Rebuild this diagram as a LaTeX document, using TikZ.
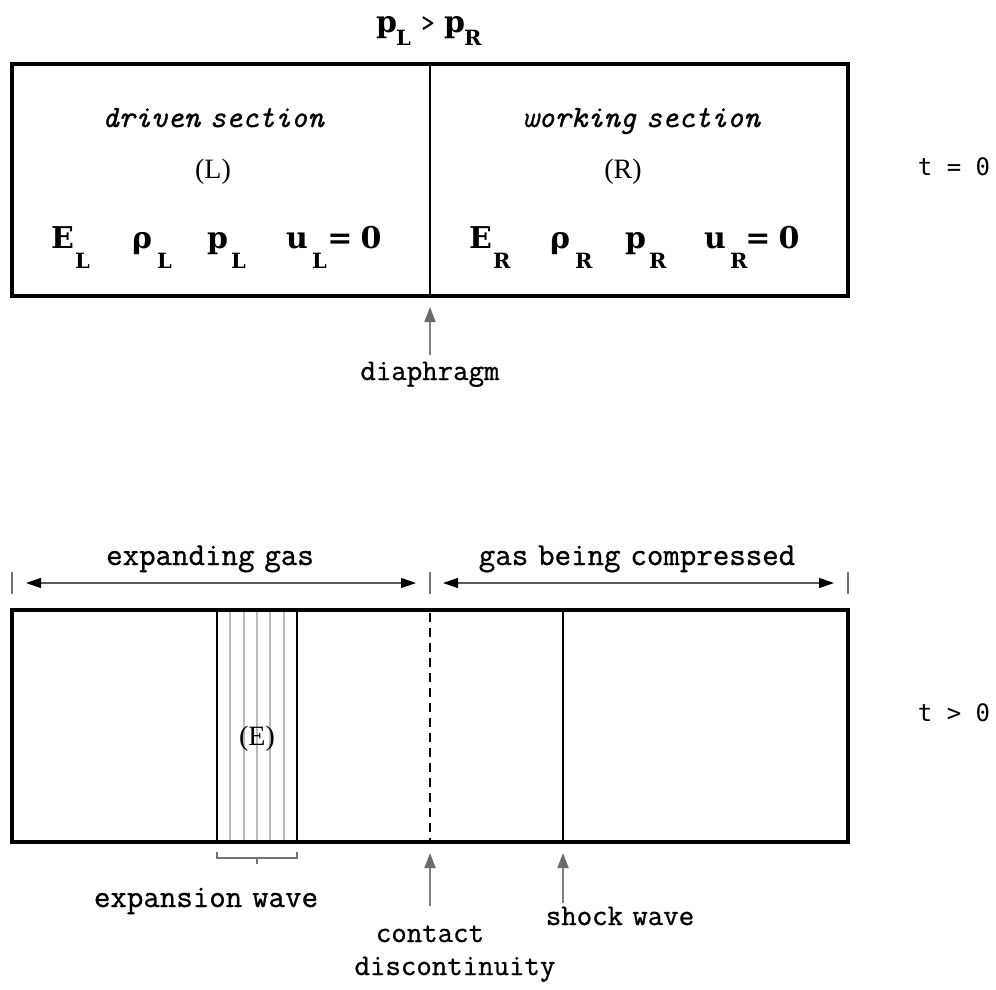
\documentclass[tikz,border=0pt]{standalone}
\usepackage{fontspec}
\setmonofont{Latin Modern Mono}[FakeBold=0.9, WordSpace=0.6]
\newfontfamily\symf{DejaVu Serif}
\newfontfamily\parenf{Liberation Serif}
\newfontfamily\tlfont{DejaVu Sans Mono}
\usetikzlibrary{arrows.meta}
\begin{document}
\begin{tikzpicture}[x=1pt,y=-1pt,
  tube/.style={line width=3.2pt, line join=miter},
  wallline/.style={line width=2pt},
  raywave/.style={line width=2pt, draw=black!27},
  contactline/.style={line width=2.8pt, dash pattern=on 9pt off 6pt},
  lbl/.style={inner sep=0pt, anchor=base, font=\fontsize{30}{36}\selectfont\ttfamily},
  lblbig/.style={inner sep=0pt, anchor=base, font=\fontsize{32}{36}\selectfont\ttfamily},
  lblit/.style={inner sep=0pt, anchor=base, font=\fontsize{31}{36}\selectfont\ttfamily\itshape},
  sym/.style={inner sep=0pt, anchor=base west, font=\fontsize{30}{36}\selectfont\symf\bfseries},
  symc/.style={inner sep=0pt, anchor=base, font=\fontsize{30}{36}\selectfont\symf\bfseries},
  subsym/.style={inner sep=0pt, anchor=base west, font=\fontsize{21}{26}\selectfont\symf\bfseries},
  paren/.style={inner sep=0pt, anchor=base, font=\fontsize{28}{32}\selectfont\parenf},
  tlabel/.style={inner sep=0pt, anchor=base, font=\fontsize{24}{28}\selectfont\tlfont},
  pointer/.style={draw=black!50, line width=1.8pt, -{Triangle[length=15pt,width=11pt,color=black!58]}},
  dimline/.style={draw=black!65, line width=1.2pt, {Triangle[length=15pt,width=10pt,color=black]}-{Triangle[length=15pt,width=10pt,color=black]}},
  tickmark/.style={draw=black!55, line width=1.5pt},
  bracketline/.style={draw=black!55, line width=1.5pt}
]
\useasboundingbox (0,0) rectangle (996,989);

% ---------- top: t = 0 ----------
\node[sym] (pL) at (376,32) {p};
\node[subsym] (pLs) at (396,45) {L};
\node[inner sep=0pt, anchor=base west, font=\fontsize{26}{30}\selectfont\ttfamily] (gt) at (421,31) {>};
\node[sym] (pR) at (444,32) {p};
\node[subsym] (pRs) at (464,45) {R};

\draw[tube] (12,64) rectangle (848,296);
\coordinate (diaTop) at (430,64);
\coordinate (diaBot) at (430,296);
\draw[wallline] (diaTop) -- (diaBot);

\node[lblit] (driven) at (213,127) {driven section};
\node[lblit] (working) at (641,127) {working section};
\node[paren] (Lp) at (213,178) {(L)};
\node[paren] (Rp) at (623,178) {(R)};

% left state
\node[sym] (EL) at (51,248) {E};
\node[subsym] (ELs) at (75,268) {L};
\node[sym] (rL) at (132,248) {ρ};
\node[subsym] (rLs) at (157,268) {L};
\node[sym] (pLL) at (207,248) {p};
\node[subsym] (pLLs) at (231,268) {L};
\node[sym] (uL) at (286,248) {u};
\node[subsym] (uLs) at (312,268) {L};
\node[symc] (eqL) at (340,248) {=};
\node[symc] (zL) at (371,248) {0};
% right state
\node[sym] (ER) at (469,248) {E};
\node[subsym] (ERs) at (493,268) {R};
\node[sym] (rR) at (550,248) {ρ};
\node[subsym] (rRs) at (575,268) {R};
\node[sym] (pRR) at (625,248) {p};
\node[subsym] (pRRs) at (649,268) {R};
\node[sym] (uR) at (704,248) {u};
\node[subsym] (uRs) at (730,268) {R};
\node[symc] (eqR) at (758,248) {=};
\node[symc] (zR) at (789,248) {0};

\node[tlabel] (t0) at (954,175) {t = 0};

\coordinate (diaTip) at (430,307);
\coordinate (diaFoot) at (430,355);
\draw[pointer] (diaFoot) -- (diaTip);
\node[lbl] (diaphragm) at (430,380) {diaphragm};

% ---------- bottom: t > 0 ----------
\node[lblbig] (expgas) at (210,565) {expanding gas};
\node[lblbig] (compgas) at (637,565) {gas being compressed};
\coordinate (tk1a) at (12,572);  \coordinate (tk1b) at (12,594);
\coordinate (tk2a) at (430,572); \coordinate (tk2b) at (430,594);
\coordinate (tk3a) at (848,572); \coordinate (tk3b) at (848,594);
\draw[tickmark] (tk1a) -- (tk1b);
\draw[tickmark] (tk2a) -- (tk2b);
\draw[tickmark] (tk3a) -- (tk3b);
\coordinate (ea) at (26,583);  \coordinate (eb) at (416,583);
\coordinate (ca) at (443,583); \coordinate (cb) at (834,583);
\draw[dimline] (ea) -- (eb);
\draw[dimline] (ca) -- (cb);

% expansion fan
\foreach \xx in {230,244,257,270,284}{
  \draw[raywave] (\xx,611) -- (\xx,841);
}
\draw[tube] (12,610) rectangle (848,842);
\draw[wallline] (217,610) -- (217,842);
\draw[wallline] (297,610) -- (297,842);
\coordinate (cdTop) at (430,613);
\coordinate (cdBot) at (430,842);
\draw[contactline] (cdTop) -- (cdBot);
\coordinate (shTop) at (563,610);
\coordinate (shBot) at (563,842);
\draw[wallline] (shTop) -- (shBot);
\node[paren] (Ep) at (257,745) {(E)};

\node[tlabel] (tg) at (954,721) {t > 0};

% bracket
\coordinate (brA) at (217,852);
\coordinate (brB) at (217,858);
\coordinate (brC) at (297,858);
\coordinate (brD) at (297,852);
\coordinate (brM) at (257,858);
\coordinate (brT) at (257,864);
\draw[bracketline] (brA) -- (brB) -- (brC) -- (brD);
\draw[bracketline] (brM) -- (brT);
\node[lblbig] (expwave) at (206,907) {expansion wave};

\coordinate (cdTip) at (430,853);
\coordinate (cdFoot) at (430,906);
\draw[pointer] (cdFoot) -- (cdTip);
\node[lbl] (contact) at (430,942) {contact};
\node[lbl] (discont) at (455,975) {discontinuity};

\coordinate (shTip) at (563,853);
\coordinate (shFoot) at (563,903);
\draw[pointer] (shFoot) -- (shTip);
\node[lbl] (shock) at (620,925) {shock wave};
\end{tikzpicture}
\end{document}
